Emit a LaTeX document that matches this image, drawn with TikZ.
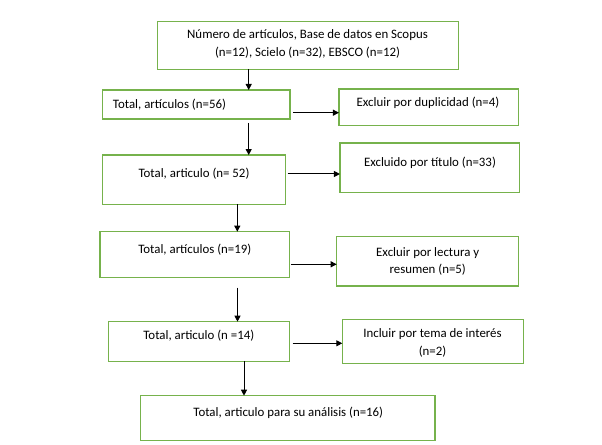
\documentclass[tikz,border=0pt]{standalone}
\usepackage{fontspec}
\setmainfont{Carlito}
\usetikzlibrary{arrows.meta,calc}
\definecolor{boxgreen}{RGB}{118,178,76}
\begin{document}
\begin{tikzpicture}[x=0.75pt,y=-0.75pt,
  box/.style 2 args={draw=boxgreen, line width=0.9pt, minimum width=#1*0.75pt, minimum height=#2*0.75pt, inner sep=0pt, outer sep=0pt},
  lbl/.style={font=\fontsize{9.65}{13.3}\selectfont, align=center, inner sep=0pt, text=black},
  arr/.style={-{Triangle[length=4.5pt,width=4.5pt]}, line width=0.75pt, draw=black}]
\useasboundingbox (0,0) rectangle (602,445);
\fill[white] (0,0) rectangle (602,445);

\node[box={301}{47.6}] (t) at (307.8,45.5) {};
\node[lbl] (tt) at (307.5,43.8) {Número de artículos, Base de datos en Scopus\\(n=12), Scielo (n=32), EBSCO (n=12)};

\node[box={187.7}{29}] (b2) at (196.2,104.5) {};
\node[lbl, anchor=west] (b2t) at (112.7,104.3) {Total, artículos (n=56)};

\node[box={179.7}{36.7}] (e1) at (428.8,107.3) {};
\node[lbl] (e1t) at (428,102.7) {Excluir por duplicidad (n=4)};

\node[box={183}{49.3}] (b3) at (193.8,179.7) {};
\node[lbl] (b3t) at (194,174) {Total, articulo (n= 52)};

\node[box={179.7}{49.3}] (e2) at (429.8,167.7) {};
\node[lbl] (e2t) at (430,162.7) {Excluido por título (n=33)};

\node[box={189.7}{46}] (b4) at (194.8,254.7) {};
\node[lbl] (b4t) at (194.8,250) {Total, artículos (n=19)};

\node[box={182}{49.3}] (e3) at (427.7,261.3) {};
\node[lbl] (e3t) at (427.7,261.5) {Excluir por lectura y\\resumen (n=5)};

\node[box={181}{39.6}] (b5) at (198.8,341.5) {};
\node[lbl] (b5t) at (198.8,336) {Total, articulo (n =14)};

\node[box={181}{44}] (e4) at (432.8,341.3) {};
\node[lbl] (e4t) at (432.5,343.2) {Incluir por tema de interés\\(n=2)};

\node[box={294.3}{45}] (b6) at (287.8,418.2) {};
\node[lbl] (b6t) at (288.3,412.7) {Total, articulo para su análisis (n=16)};

\draw[arr] (t.south -| 248.7,0) -- (b2.north -| 248.7,0);
\draw[arr] ($(b2.east)+(2.7,8.2)$) coordinate (s1) -- (s1 -| e1.west);
\draw[arr] ($(b2.south -| 248.7,0)+(0,4)$) -- (b3.north -| 248.7,0);
\draw[arr] ($(b3.east)+(2.4,-5.7)$) coordinate (s2) -- (s2 -| e2.west);
\draw[arr] (b3.south -| 237.3,0) -- (b4.north -| 237.3,0);
\draw[arr] ($(b4.east)+(1.3,9.6)$) coordinate (s3) -- (s3 -| e3.west);
\draw[arr] ($(b4.south -| 237.5,0)+(0,10)$) -- (b5.north -| 237.5,0);
\draw[arr] ($(b5.east)+(3.4,1.8)$) coordinate (s4) -- (s4 -| e4.west);
\draw[arr] (b5.south -| 244,0) -- (b6.north -| 244,0);
\end{tikzpicture}
\end{document}
